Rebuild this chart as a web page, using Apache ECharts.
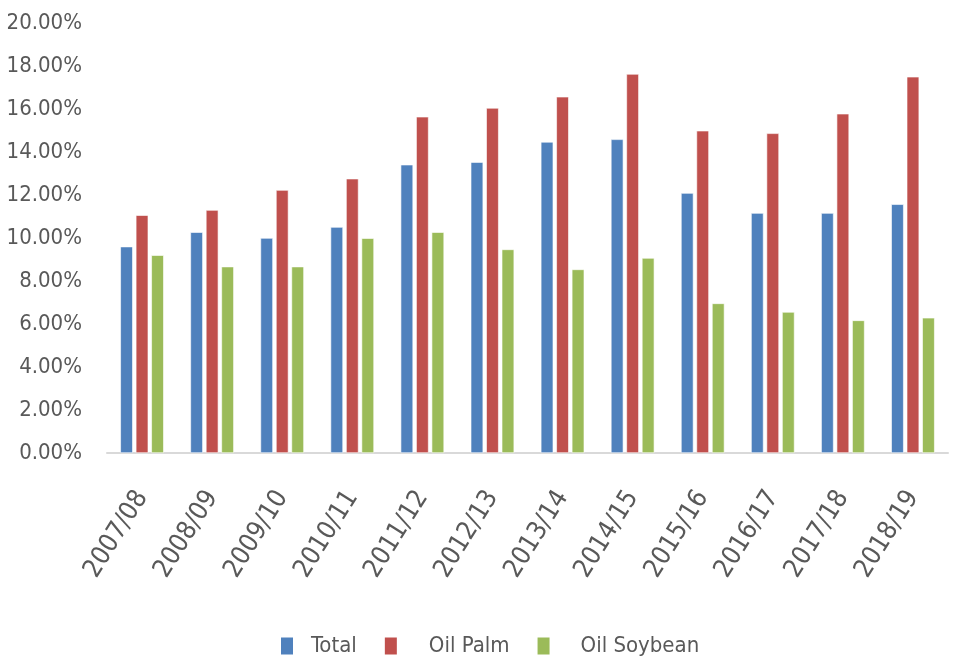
<!DOCTYPE html>
<html>
<head>
<meta charset="utf-8">
<title>Oil share</title>
<script src="https://cdn.jsdelivr.net/npm/echarts@6/dist/echarts.min.js"></script>
<style>
  html, body { margin: 0; padding: 0; background: #fff; }
  #chart { width: 954px; height: 658px; }
</style>
</head>
<body>
<div id="chart"></div>
<script>
// 年度
const seasons = ['2007/08', '2008/09', '2009/10', '2010/11', '2011/12', '2012/13',
  '2013/14', '2014/15', '2015/16', '2016/17', '2017/18', '2018/19'];
// 各系列（百分比）
const total = [9.6, 10.27, 10.0, 10.51, 13.41, 13.53, 14.47, 14.59, 12.09, 11.16, 11.16, 11.57];
const oilPalm = [11.06, 11.3, 12.23, 12.76, 15.64, 16.05, 16.57, 17.63, 14.99, 14.87, 15.78, 17.5];
const oilSoybean = [9.2, 8.67, 8.67, 9.99, 10.27, 9.47, 8.54, 9.07, 6.96, 6.56, 6.17, 6.29];
const yTicks = [0, 2, 4, 6, 8, 10, 12, 14, 16, 18, 20];

const font = '"DejaVu Sans Condensed", "Liberation Sans Narrow", sans-serif';
const txt = '#595959';

const chart = echarts.init(document.getElementById('chart'));

function bar(name, data, color) {
  return {
    name: name,
    type: 'bar',
    data: data,
    barWidth: 12.5,
    barGap: '24%',
    itemStyle: { color: color, borderColor: '#fff', borderWidth: 0.6 }
  };
}

let option = {
  animation: false,
  textStyle: { fontFamily: font },
  grid: { left: 107, right: 6, top: 23, bottom: 205, containLabel: false, outerBoundsMode: 'none' },
  legend: {
    top: 635,
    left: 279,
    padding: 0,
    itemWidth: 14,
    itemHeight: 19,
    itemGap: 26,
    icon: 'rect',
    textStyle: { color: txt, fontSize: 22, fontFamily: font },
    data: [
      { name: 'Total', textStyle: { padding: [0, 0, 0, 12] } },
      { name: 'Oil Palm', textStyle: { padding: [0, 0, 0, 26] } },
      { name: 'Oil Soybean', textStyle: { padding: [0, 0, 0, 25] } }
    ]
  },
  xAxis: {
    type: 'category',
    data: seasons,
    axisLine: { lineStyle: { color: '#d9d9d9', width: 2 } },
    axisTick: { show: false },
    axisLabel: {
      color: txt, fontSize: 26, rotate: 58, margin: 40, interval: 0
    }
  },
  yAxis: {
    type: 'value',
    min: yTicks[0],
    max: yTicks[yTicks.length - 1],
    interval: 2,
    axisLine: { show: false },
    axisTick: { show: false },
    splitLine: { show: false },
    axisLabel: {
      color: txt, fontSize: 22, margin: 25,
      formatter: v => v.toFixed(2) + '%'
    }
  },
  series: [
    bar('Total', total, '#4f81bd'),
    bar('Oil Palm', oilPalm, '#c0504d'),
    bar('Oil Soybean', oilSoybean, '#9bbb59')
  ]
};

chart.setOption(option);
</script>
</body>
</html>
